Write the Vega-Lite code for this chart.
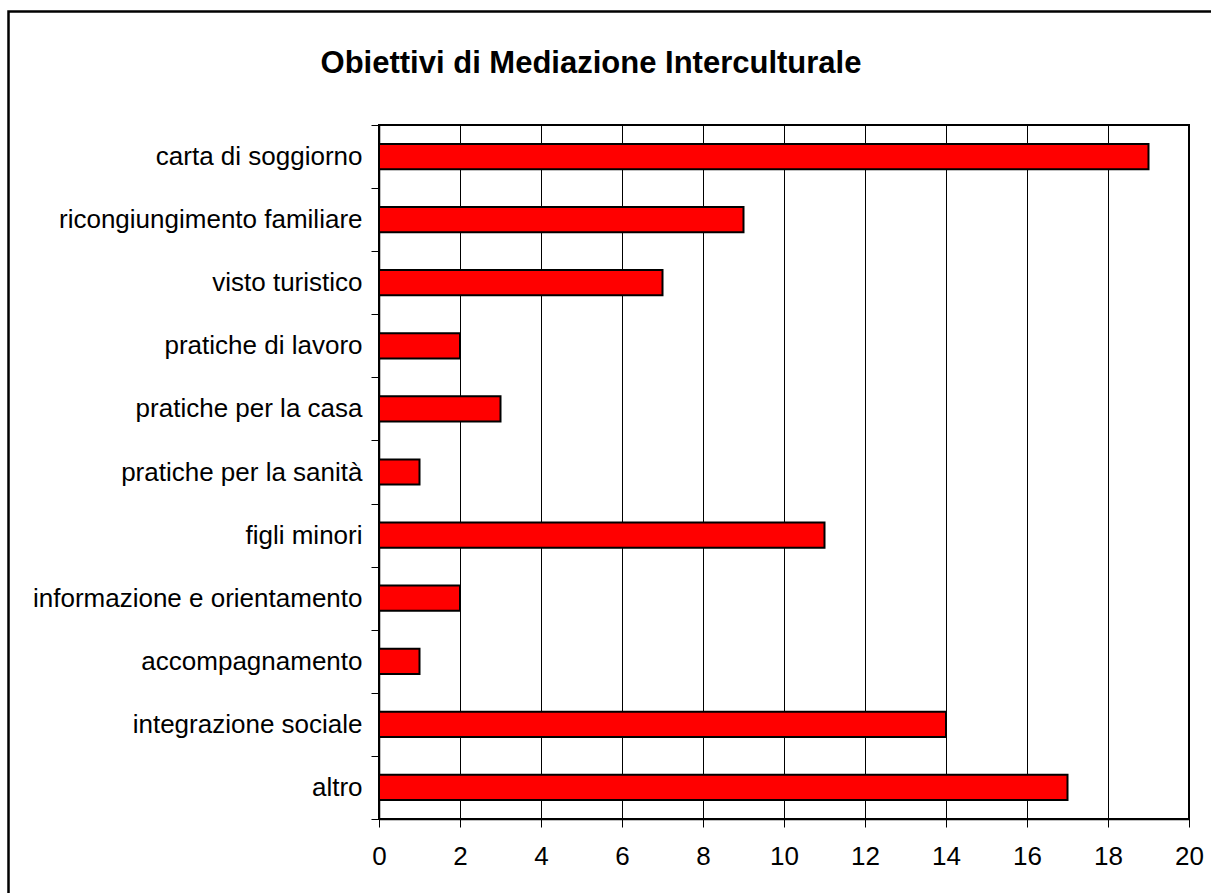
{
  "$schema": "https://vega.github.io/schema/vega-lite/v6.json",
  "width": 810,
  "height": 694,
  "autosize": "none",
  "padding": {"left": 379, "top": 125, "right": 22, "bottom": 74},
  "background": "white",
  "title": {
    "text": "Obiettivi di Mediazione Interculturale",
    "font": "Liberation Sans",
    "fontSize": 31,
    "fontWeight": "bold",
    "color": "black",
    "anchor": "middle",
    "dx": -193,
    "baseline": "alphabetic",
    "offset": -94
  },
  "layer": [
    {
      "data": {"values": [{"frame": 1}]},
      "mark": {"type": "rect", "fill": null, "stroke": "black", "strokeWidth": 2.5, "clip": false},
      "encoding": {
        "x": {"datum": -0.4574, "type": "quantitative", "scale": {"domain": [0, 1], "nice": false, "zero": false}, "axis": null},
        "x2": {"datum": 1.1},
        "y": {"datum": 1.1635, "type": "quantitative", "scale": {"domain": [0, 1], "nice": false, "zero": false}, "axis": null},
        "y2": {"datum": -0.2}
      }
    },
    {
      "data": {
        "values": [
          {"obiettivo": "carta di soggiorno", "valore": 19},
          {"obiettivo": "ricongiungimento familiare", "valore": 9},
          {"obiettivo": "visto turistico", "valore": 7},
          {"obiettivo": "pratiche di lavoro", "valore": 2},
          {"obiettivo": "pratiche per la casa", "valore": 3},
          {"obiettivo": "pratiche per la sanità", "valore": 1},
          {"obiettivo": "figli minori", "valore": 11},
          {"obiettivo": "informazione e orientamento", "valore": 2},
          {"obiettivo": "accompagnamento", "valore": 1},
          {"obiettivo": "integrazione sociale", "valore": 14},
          {"obiettivo": "altro", "valore": 17}
        ]
      },
      "mark": {"type": "bar", "fill": "#ff0000", "stroke": "black", "strokeWidth": 2, "height": {"band": 0.4}},
      "encoding": {
        "y": {
          "field": "obiettivo",
          "type": "nominal",
          "sort": null,
          "scale": {"paddingInner": 0, "paddingOuter": 0},
          "axis": {
            "orient": "left",
            "title": null,
            "tickBand": "extent",
            "tickSize": 8,
            "tickColor": "black",
            "tickWidth": 1,
            "domainColor": "black",
            "domainWidth": 1.5,
            "labelFont": "Liberation Sans",
            "labelFontSize": 26,
            "labelColor": "black",
            "labelPadding": 9,
            "labelLimit": 400,
            "grid": false
          }
        },
        "x": {
          "field": "valore",
          "type": "quantitative",
          "scale": {"domain": [0, 20], "nice": false},
          "axis": {
            "orient": "bottom",
            "title": null,
            "values": [0, 2, 4, 6, 8, 10, 12, 14, 16, 18, 20],
            "grid": true,
            "gridColor": "black",
            "gridOpacity": 1,
            "gridWidth": 1,
            "tickSize": 8,
            "tickColor": "black",
            "tickWidth": 1,
            "domainColor": "black",
            "domainWidth": 1.5,
            "labelFont": "Liberation Sans",
            "labelFontSize": 26,
            "labelColor": "black",
            "labelPadding": 16,
            "labelFlush": false,
            "labelOverlap": false
          }
        }
      }
    }
  ],
  "resolve": {"scale": {"x": "independent", "y": "independent"}},
  "config": {"view": {"stroke": "black", "strokeWidth": 2}}
}
